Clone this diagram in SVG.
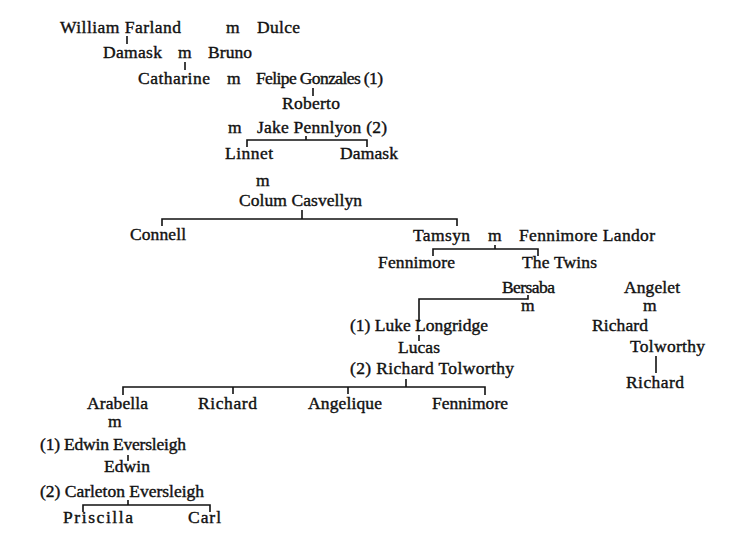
<svg xmlns="http://www.w3.org/2000/svg" width="751" height="546" viewBox="0 0 751 546">
<style>
text{font-family:"Liberation Serif","Times New Roman",serif;font-size:17.5px;fill:#111;stroke:#111;stroke-width:0.4}
.c{stroke:#111;stroke-width:1.6;fill:none}
</style>
<rect width="751" height="546" fill="#fff"/>
<g id="connectors">
<path class="c" d="M127 36V44"/>
<path class="c" d="M185 62V70"/>
<path class="c" d="M313 88V96"/>
<path class="c" d="M306 136V140M247 147V140H367V147"/>
<path class="c" d="M302 210V219M162 226V219H457V226"/>
<path class="c" d="M495 245V249M433 256V249H538V256"/>
<path class="c" d="M528 295V299H419V322"/>
<path class="c" d="M419 335V341"/>
<path class="c" d="M656 356V373"/>
<path class="c" d="M406 379V387M123 395V387H485V395M233 387V394M348 387V394"/>
<path class="c" d="M128 455V461"/>
<path class="c" d="M128 500V505M83 512V505H210V512"/>
</g>
<g id="n-william"><text x="60" y="33" textLength="121">William Farland</text></g>
<g id="m1"><text x="226" y="33" textLength="13">m</text></g>
<g id="n-dulce"><text x="257" y="33" textLength="43">Dulce</text></g>
<g id="n-damask1"><text x="103" y="58" textLength="59">Damask</text></g>
<g id="m2"><text x="178" y="58" textLength="13">m</text></g>
<g id="n-bruno"><text x="208" y="58" textLength="44">Bruno</text></g>
<g id="n-catharine"><text x="138" y="84" textLength="72">Catharine</text></g>
<g id="m3"><text x="227" y="84" textLength="13">m</text></g>
<g id="n-felipe"><text x="256" y="84" textLength="127">Felipe Gonzales (1)</text></g>
<g id="n-roberto"><text x="282" y="109" textLength="58">Roberto</text></g>
<g id="m4"><text x="228" y="133" textLength="13">m</text></g>
<g id="n-jake"><text x="257" y="133" textLength="130">Jake Pennlyon (2)</text></g>
<g id="n-linnet"><text x="225" y="159" textLength="48">Linnet</text></g>
<g id="n-damask2"><text x="340" y="159" textLength="58">Damask</text></g>
<g id="m5"><text x="256" y="186" textLength="13">m</text></g>
<g id="n-colum"><text x="239" y="206" textLength="123">Colum Casvellyn</text></g>
<g id="n-connell"><text x="130" y="240" textLength="56">Connell</text></g>
<g id="n-tamsyn"><text x="413" y="241" textLength="57">Tamsyn</text></g>
<g id="m6"><text x="488" y="241" textLength="14">m</text></g>
<g id="n-fennimore-landor"><text x="519" y="241" textLength="136">Fennimore Landor</text></g>
<g id="n-fennimore1"><text x="378" y="268" textLength="77">Fennimore</text></g>
<g id="n-twins"><text x="522" y="268" textLength="75">The Twins</text></g>
<g id="n-bersaba"><text x="502" y="293" textLength="53">Bersaba</text></g>
<g id="n-angelet"><text x="624" y="293" textLength="56">Angelet</text></g>
<g id="m7"><text x="521" y="311" textLength="14">m</text></g>
<g id="m8"><text x="643" y="311" textLength="14">m</text></g>
<g id="n-luke"><text x="350" y="331" textLength="138">(1) Luke Longridge</text></g>
<g id="n-richard-t1"><text x="592" y="331" textLength="56">Richard</text><text x="630" y="352" textLength="75">Tolworthy</text></g>
<g id="n-lucas"><text x="398" y="353" textLength="42">Lucas</text></g>
<g id="n-richard2"><text x="626" y="388" textLength="58">Richard</text></g>
<g id="n-richard-t2"><text x="350" y="374" textLength="164">(2) Richard Tolworthy</text></g>
<g id="n-arabella"><text x="87" y="409" textLength="61">Arabella</text></g>
<g id="n-richard3"><text x="198" y="409" textLength="59">Richard</text></g>
<g id="n-angelique"><text x="308" y="409" textLength="74">Angelique</text></g>
<g id="n-fennimore2"><text x="432" y="409" textLength="76">Fennimore</text></g>
<g id="m9"><text x="108" y="427" textLength="13">m</text></g>
<g id="n-edwin-e"><text x="40" y="450" textLength="146">(1) Edwin Eversleigh</text></g>
<g id="n-edwin"><text x="104" y="472" textLength="46">Edwin</text></g>
<g id="n-carleton"><text x="40" y="497" textLength="164">(2) Carleton Eversleigh</text></g>
<g id="n-priscilla"><text x="63" y="523" textLength="70">Priscilla</text></g>
<g id="n-carl"><text x="188" y="523" textLength="33">Carl</text></g>
</svg>
